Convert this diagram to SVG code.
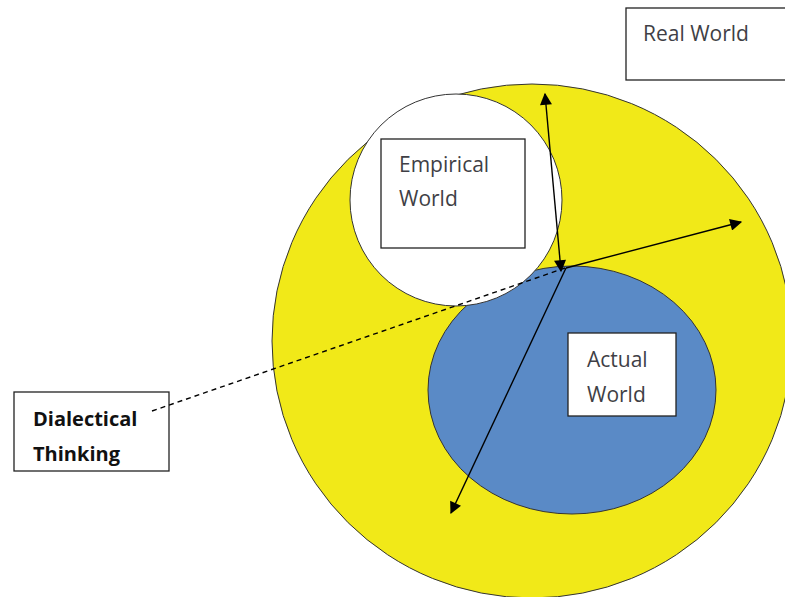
<svg xmlns="http://www.w3.org/2000/svg" width="785" height="597" viewBox="0 0 785 597">
<style>
.lbl{font-family:"Open Sans","Liberation Sans",sans-serif;font-size:21px;fill:#3f3f46}
.bold{font-family:"Open Sans","Liberation Sans",sans-serif;font-size:20px;font-weight:bold;fill:#111}
.box{fill:#fff;stroke:#222;stroke-width:1.3}
.ln{stroke:#000;stroke-width:1.4;fill:none}
</style>
<defs>
<marker id="ah" viewBox="0 0 10 10" refX="9" refY="5" markerWidth="13" markerHeight="12" markerUnits="userSpaceOnUse" orient="auto-start-reverse">
<path d="M0,0 L10,5 L0,10 z" fill="#000"/>
</marker>
</defs>
<rect width="785" height="597" fill="#fff"/>
<g id="real-world-shape">
<ellipse cx="532" cy="341" rx="260" ry="257" fill="#F1E918" stroke="#333" stroke-width="1"/>
</g>
<g id="actual-world-shape">
<ellipse cx="572" cy="390" rx="144" ry="124" fill="#5A8AC6" stroke="#333" stroke-width="1"/>
</g>
<g id="empirical-world-shape">
<circle cx="456" cy="200" r="106" fill="#fff" stroke="#333" stroke-width="1"/>
</g>
<g id="real-world">
<rect class="box" x="626" y="8" width="165" height="72"/>
<text class="lbl" x="643" y="41">Real World</text>
</g>
<g id="empirical-world">
<rect class="box" x="381" y="139" width="144" height="109"/>
<text class="lbl" x="399" y="172">Empirical</text>
<text class="lbl" x="399" y="206">World</text>
</g>
<g id="actual-world">
<rect class="box" x="568" y="333" width="108" height="83"/>
<text class="lbl" x="587" y="367">Actual</text>
<text class="lbl" x="587" y="402">World</text>
</g>
<g id="dialectical-thinking">
<rect class="box" x="14" y="392" width="155" height="79"/>
<text class="bold" x="33" y="426">Dialectical</text>
<text class="bold" x="33" y="461">Thinking</text>
</g>
<g id="connectors">
<line class="ln" x1="561" y1="271" x2="545" y2="94" marker-start="url(#ah)" marker-end="url(#ah)"/>
<line class="ln" x1="566" y1="268" x2="741" y2="222" marker-end="url(#ah)"/>
<line class="ln" x1="566" y1="268" x2="451" y2="513" marker-end="url(#ah)"/>
<line class="ln" x1="152" y1="411" x2="565" y2="268" stroke-dasharray="5,4" stroke-width="1.2"/>
</g>
</svg>
